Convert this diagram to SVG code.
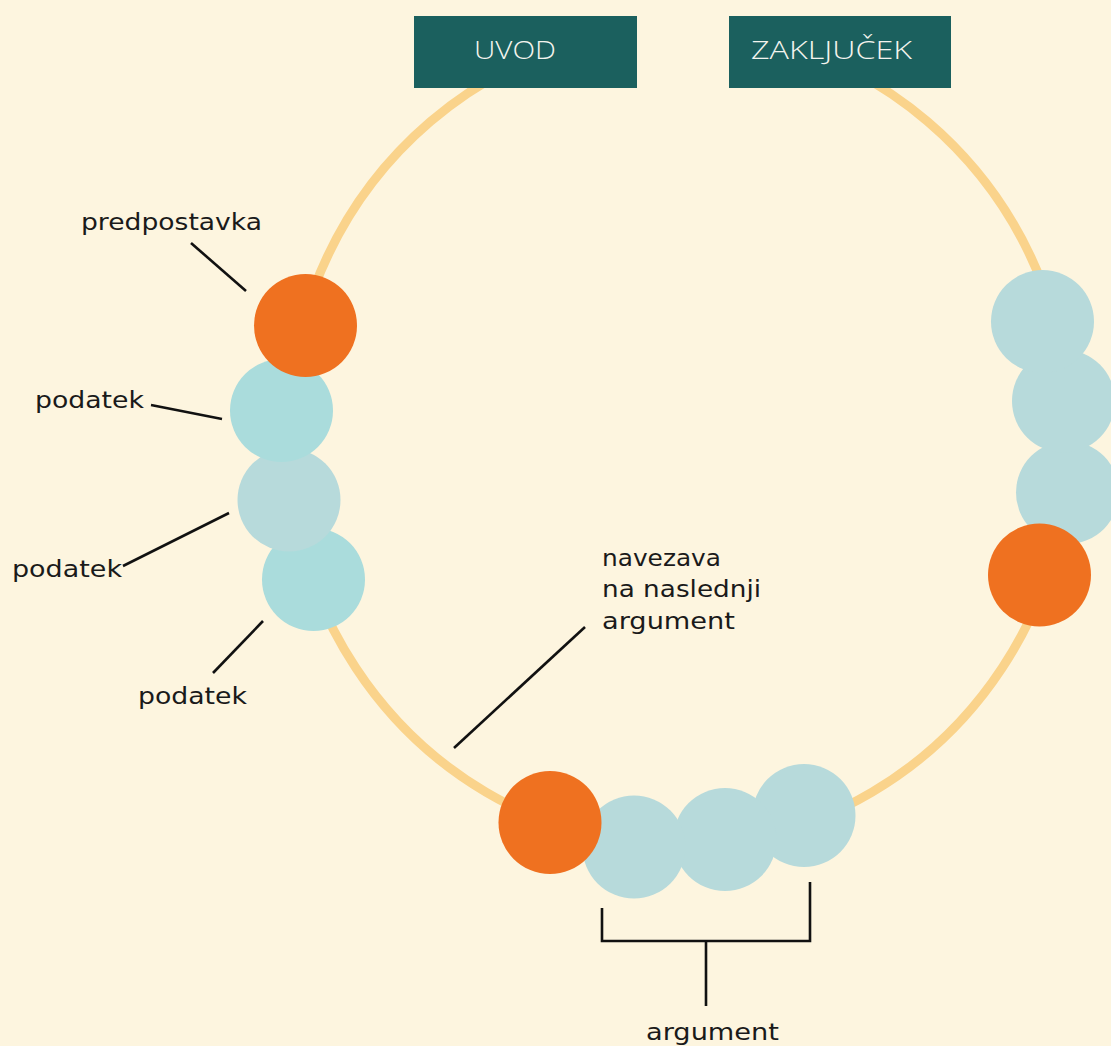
<svg xmlns="http://www.w3.org/2000/svg" width="1111" height="1046" viewBox="0 0 1111 1046">
  <style>
    .bg { fill: #FDF5DF; }
    .ring { fill: none; stroke: #FAD38B; stroke-width: 9; }
    .box { fill: #1B605E; }
    .boxtxt { font-family: "Open Sans", "Noto Sans", "Liberation Sans", sans-serif; font-weight: 300; font-size: 26px; fill: #F4F4EE; }
    .orange { fill: #EF7120; }
    .cyan { fill: #AADCDC; }
    .grey { fill: #B7DADB; }
    .lbl { font-family: "DejaVu Sans", "Noto Sans", "Liberation Sans", sans-serif; font-size: 23px; fill: #1A1A1A; }
    .lead { stroke: #111111; stroke-width: 2.6; fill: none; }
  </style>
  <rect class="bg" x="0" y="0" width="1111" height="1046"/>

  <g id="ring">
    <path class="ring" d="M588.6,40 A392,408 0 1,0 769.4,40"/>
  </g>

  <g id="uvod">
    <rect class="box" x="414" y="16" width="223" height="72"/>
    <text class="boxtxt" x="474" y="59" textLength="82" lengthAdjust="spacingAndGlyphs">UVOD</text>
  </g>
  <g id="zakljucek">
    <rect class="box" x="729" y="16" width="222" height="72"/>
    <text class="boxtxt" x="751" y="59" textLength="161" lengthAdjust="spacingAndGlyphs">ZAKLJUČEK</text>
  </g>

  <g id="left-beads">
    <circle id="podatek-3" class="cyan" cx="313.5" cy="579.5" r="51.5"/>
    <circle id="podatek-2" class="grey" cx="289" cy="500" r="51.5"/>
    <circle id="podatek-1" class="cyan" cx="281.5" cy="410.5" r="51.5"/>
    <circle id="predpostavka-bead" class="orange" cx="305.5" cy="325.5" r="51.5"/>
  </g>

  <g id="right-beads">
    <circle class="grey" cx="1067.5" cy="492.5" r="51.5"/>
    <circle class="grey" cx="1063.5" cy="401" r="51.5"/>
    <circle class="grey" cx="1042.5" cy="321.5" r="51.5"/>
    <circle class="orange" cx="1039.5" cy="575" r="51.5"/>
  </g>

  <g id="bottom-beads">
    <circle class="grey" cx="804" cy="815.5" r="51.5"/>
    <circle class="grey" cx="725" cy="839.5" r="51.5"/>
    <circle class="grey" cx="634" cy="847" r="51.5"/>
    <circle class="orange" cx="550" cy="822.5" r="51.5"/>
  </g>

  <g id="connectors">
    <line class="lead" x1="191" y1="243" x2="246" y2="291"/>
    <line class="lead" x1="151" y1="405" x2="222" y2="419"/>
    <line class="lead" x1="123" y1="566" x2="229" y2="513"/>
    <line class="lead" x1="213" y1="673" x2="263" y2="621"/>
    <line class="lead" x1="585" y1="627" x2="454" y2="748"/>
    <path class="lead" d="M602,908 L602,941 L810,941 L810,882 M706,941 L706,1006"/>
  </g>

  <g id="labels">
    <text class="lbl" x="81" y="230" textLength="181" lengthAdjust="spacingAndGlyphs">predpostavka</text>
    <text class="lbl" x="35" y="408" textLength="109" lengthAdjust="spacingAndGlyphs">podatek</text>
    <text class="lbl" x="12" y="577" textLength="110" lengthAdjust="spacingAndGlyphs">podatek</text>
    <text class="lbl" x="138" y="704" textLength="109" lengthAdjust="spacingAndGlyphs">podatek</text>
    <text class="lbl" x="602" y="565.5" textLength="119" lengthAdjust="spacingAndGlyphs">navezava</text>
    <text class="lbl" x="602" y="597" textLength="159" lengthAdjust="spacingAndGlyphs">na naslednji</text>
    <text class="lbl" x="602" y="629" textLength="133" lengthAdjust="spacingAndGlyphs">argument</text>
    <text class="lbl" x="646" y="1040" textLength="133" lengthAdjust="spacingAndGlyphs">argument</text>
  </g>
</svg>
